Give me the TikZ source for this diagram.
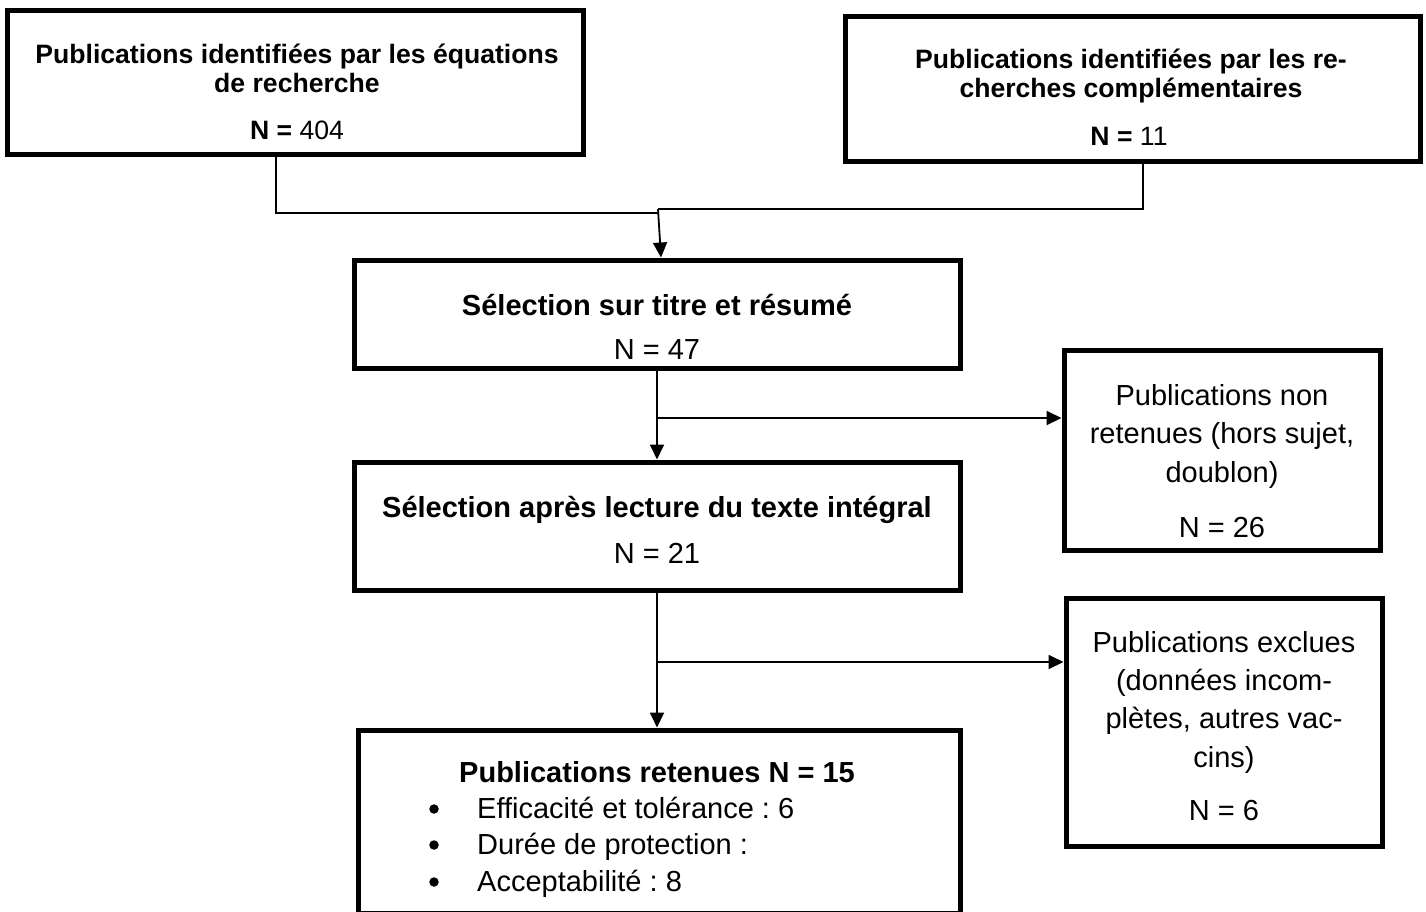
\documentclass[tikz,border=0pt]{standalone}
\usepackage{fontspec}
\setmainfont{Liberation Sans}
\usetikzlibrary{arrows.meta}
\frenchspacing
\begin{document}
\begin{tikzpicture}[x=1pt,y=-1pt,
  box/.style={draw, line width=5pt, inner sep=0pt},
  conn/.style={line width=1.8pt},
  arr/.style={conn, -{Triangle[length=15pt,width=14pt]}},
  hb/.style={font=\fontsize{26.6}{30}\selectfont\bfseries, anchor=base, inner sep=0pt},
  hn/.style={font=\fontsize{26.6}{30}\selectfont, anchor=base, inner sep=0pt},
  big/.style={font=\fontsize{29}{35}\selectfont, anchor=base, inner sep=0pt},
  bigb/.style={font=\fontsize{29}{35}\selectfont\bfseries, anchor=base, inner sep=0pt},
  bul/.style={circle, fill=black, inner sep=0pt, minimum size=9.5pt}]
\clip (0,0) rectangle (1426,911);
\fill[white] (0,0) rectangle (1426,911);
% boxes
\node[box, minimum width=575.5pt, minimum height=144pt] (b1) at (295.25,82.5) {};
\node[box, minimum width=575pt, minimum height=144.5pt] (b2) at (1132.5,88.75) {};
\node[box, minimum width=606pt, minimum height=108pt] (b3) at (657,314) {};
\node[box, minimum width=606pt, minimum height=128pt] (b4) at (657,526) {};
\node[box, minimum width=316pt, minimum height=200pt] (b5) at (1222,450) {};
\node[box, minimum width=602pt, minimum height=183pt] (b6) at (659,821.5) {};
\node[box, minimum width=316pt, minimum height=248pt] (b7) at (1224,722) {};
% texts box 1
\node[hb] (t1a) at (297,63) {Publications identifiées par les équations};
\node[hb] (t1b) at (297,92) {de recherche};
\node[hn] (t1c) at (297,139) {\textbf{N =} 404};
% texts box 2
\node[hb] (t2a) at (1131,68) {Publications identifiées par les re-};
\node[hb] (t2b) at (1131,97) {cherches complémentaires};
\node[hn] (t2c) at (1129,145) {\textbf{N =} 11};
% box 3
\node[bigb] (t3a) at (657,315) {Sélection sur titre et résumé};
\node[big] (t3b) at (657,359) {N = 47};
% box 4
\node[bigb] (t4a) at (657,517) {Sélection après lecture du texte intégral};
\node[big] (t4b) at (657,563) {N = 21};
% box 5
\node[big] (t5a) at (1222,405) {Publications non};
\node[big] (t5b) at (1222,443) {retenues (hors sujet,};
\node[big] (t5c) at (1222,482) {doublon)};
\node[big] (t5d) at (1222,537) {N = 26};
% box 7
\node[big] (t7a) at (1224,652) {Publications exclues};
\node[big] (t7b) at (1224,690) {(données incom-};
\node[big] (t7c) at (1224,728) {plètes, autres vac-};
\node[big] (t7d) at (1224,767) {cins)};
\node[big] (t7e) at (1224,820) {N = 6};
% box 6
\node[bigb, anchor=base west] (t6a) at (459,782) {Publications retenues N = 15};
\node[bul] (d1) at (434,809) {};
\node[bul] (d2) at (434,845) {};
\node[bul] (d3) at (434,882) {};
\node[big, anchor=base west] (t6b) at (477,818) {Efficacité et tolérance : 6};
\node[big, anchor=base west] (t6c) at (477,854) {Durée de protection :};
\node[big, anchor=base west] (t6d) at (477,891) {Acceptabilité : 8};
% connectors
\coordinate (j1) at (658,213);
\coordinate (j2) at (658,209);
\coordinate (k1) at (657,418);
\coordinate (k2) at (657,662);
\draw[conn] ([xshift=-19.25pt]b1.south) |- (j1);
\draw[conn] ([xshift=10.5pt]b2.south) |- (j2);
\draw[arr] (j2) -- ([xshift=4pt]b3.north);
\draw[arr] (b3.south) -- (b4.north);
\draw[arr] (k1) -- (k1 -| b5.west);
\draw[arr] (b4.south) -- (b4.south |- b6.north);
\draw[arr] (k2) -- (k2 -| b7.west);
\end{tikzpicture}
\end{document}
